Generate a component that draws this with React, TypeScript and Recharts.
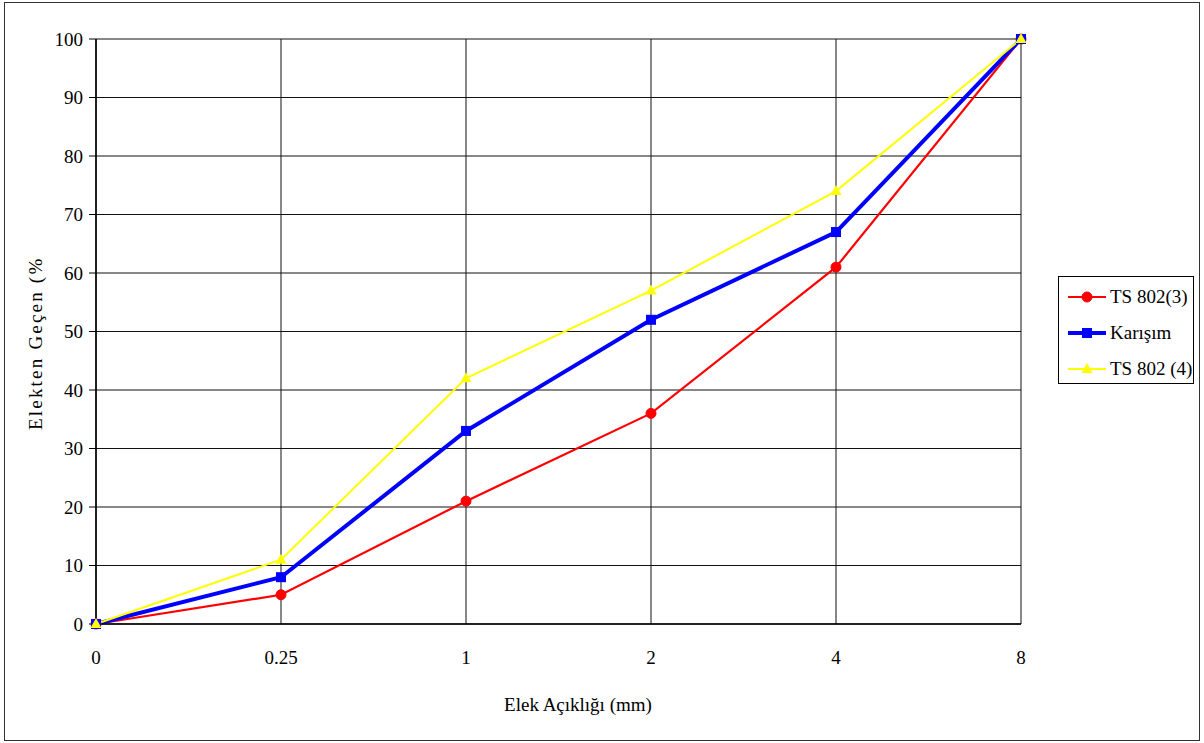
import React from 'react';
import { LineChart, Line, XAxis, YAxis, CartesianGrid } from 'recharts';

// sieve sizes (mm) and passing percentages per gradation
const sieves = ['0', '0.25', '1', '2', '4', '8'];
const ts802_3 = [0, 5, 21, 36, 61, 100];
const karisim = [0, 8, 33, 52, 67, 100];
const ts802_4 = [0, 11, 42, 57, 74, 100];
const yTicks = [0, 10, 20, 30, 40, 50, 60, 70, 80, 90, 100];

const FONT = '"Liberation Serif", "Times New Roman", serif';

const series = [
  { key: 'ts3', name: 'TS 802(3)', color: '#FF0000', width: 2.2, shape: 'circle' },
  { key: 'mix', name: 'Karışım', color: '#0000FF', width: 4, shape: 'square' },
  { key: 'ts4', name: 'TS 802 (4)', color: '#FFFF00', width: 2, shape: 'triangle' },
];

const data = sieves.map((s, i) => ({
  sieve: s,
  ts3: ts802_3[i],
  mix: karisim[i],
  ts4: ts802_4[i],
}));

function Marker({ cx, cy, shape, color }: { cx: number; cy: number; shape: string; color: string }) {
  if (cx == null || cy == null) return null;
  if (shape === 'circle') return <circle cx={cx} cy={cy} r={5} fill={color} stroke={color} />;
  if (shape === 'square') return <rect x={cx - 5} y={cy - 5} width={10} height={10} fill={color} />;
  return <polygon points={`${cx},${cy - 6} ${cx + 5.5},${cy + 4} ${cx - 5.5},${cy + 4}`} fill={color} />;
}

function LegendBox() {
  return (
    <div
      style={{
        position: 'absolute', left: 1058, top: 276, width: 134, height: 106,
        border: '1px solid #000', background: '#fff', fontFamily: FONT, fontSize: 19,
      }}
    >
      {series.map((s, i) => (
        <div key={s.key} style={{ position: 'absolute', left: 0, top: 20 + i * 36 - 12, height: 24, width: 134 }}>
          <svg width={40} height={24} style={{ position: 'absolute', left: 9, top: 0 }}>
            <line x1={0} x2={38} y1={12} y2={12} stroke={s.color} strokeWidth={s.width} />
            <Marker cx={19} cy={12} shape={s.shape} color={s.color} />
          </svg>
          <span style={{ position: 'absolute', left: 51, top: 1, lineHeight: '22px', whiteSpace: 'nowrap' }}>{s.name}</span>
        </div>
      ))}
    </div>
  );
}

export default function App() {
  return (
    <div style={{ position: 'absolute', left: 0, top: 0, width: 1204, height: 743, background: '#fff' }}>
      <div
        style={{
          position: 'absolute', left: 4, top: 2, width: 1196, height: 739,
          border: '1.5px solid #333', boxSizing: 'border-box',
        }}
      />
      <LineChart
        width={1204}
        height={743}
        data={data}
        margin={{ top: 39, right: 183, left: 0, bottom: 69 }}
        style={{ position: 'absolute', left: 0, top: 0 }}
      >
        <CartesianGrid stroke="#111" strokeWidth={1} />
        <XAxis
          dataKey="sieve"
          height={50}
          axisLine={{ stroke: '#000', strokeWidth: 1.5 }}
          tickLine={false}
          tickSize={6}
          tickMargin={21}
          tick={{ fill: '#000', fontSize: 19, fontFamily: FONT }}
          label={{
            content: () => (
              <text x={578} y={711} textAnchor="middle" fontFamily={FONT} fontSize={19} fill="#000">
                Elek Açıklığı (mm)
              </text>
            ),
          }}
        />
        <YAxis
          width={96}
          domain={[0, 100]}
          ticks={yTicks}
          interval={0}
          axisLine={{ stroke: '#000', strokeWidth: 1.5 }}
          tickLine={{ stroke: '#000' }}
          tickSize={7}
          tickMargin={6}
          tick={{ fill: '#000', fontSize: 19, fontFamily: FONT }}
          label={{
            content: () => (
              <text
                x={42}
                y={430}
                transform="rotate(-90 42 430)"
                textAnchor="start"
                fontFamily={FONT}
                fontSize={19}
                letterSpacing={2.2}
                fill="#000"
              >
                Elekten Geçen (%
              </text>
            ),
          }}
        />
        {series.map((s) => (
          <Line
            key={s.key}
            dataKey={s.key}
            name={s.name}
            stroke={s.color}
            strokeWidth={s.width}
            isAnimationActive={false}
            dot={(p: any) => <Marker key={`${s.key}-${p.index}`} cx={p.cx} cy={p.cy} shape={s.shape} color={s.color} />}
            activeDot={false}
          />
        ))}
      </LineChart>
      <LegendBox />
    </div>
  );
}
